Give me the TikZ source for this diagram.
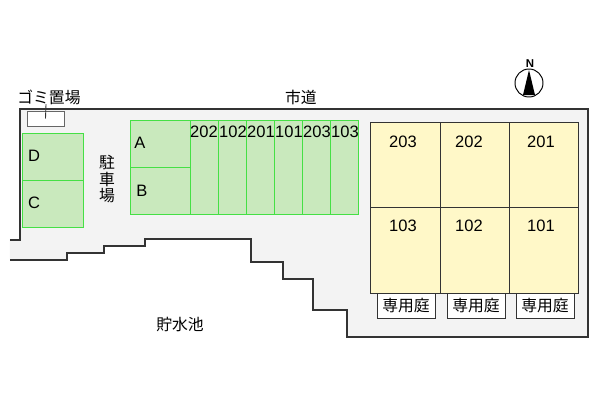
\documentclass[tikz,border=0pt]{standalone}
\usepackage{fontspec}
\setmainfont{Liberation Sans}
\newfontfamily\jpfont{Noto Sans CJK JP}
\usetikzlibrary{positioning}
\definecolor{lotgray}{HTML}{F3F3F3}
\definecolor{parkfill}{HTML}{C9E9BD}
\definecolor{parkline}{HTML}{45E045}
\definecolor{roomfill}{HTML}{FFF8C8}
\definecolor{wallline}{HTML}{333333}

\begin{document}
\begin{tikzpicture}[x=0.02cm,y=-0.02cm,
	lot line/.style={wallline,line width=0.85pt},
	room node/.style={rectangle,draw=wallline,fill=roomfill,line width=0.55pt,inner sep=0,minimum width=69.3*0.02cm,minimum height=85.5*0.02cm},
	garden node/.style={rectangle,draw=wallline,fill=white,line width=0.5pt,inner sep=0,minimum width=58*0.02cm,minimum height=25*0.02cm,font=\jpfont\fontsize{9}{9.2}\selectfont},
	stall node/.style={rectangle,draw=parkline,fill=parkfill,line width=0.5pt,inner sep=0,minimum width=28*0.02cm,minimum height=94*0.02cm},
	park node/.style={rectangle,draw=parkline,fill=parkfill,line width=0.5pt,inner sep=0},
	num text/.style={inner sep=0,font=\fontsize{9.4}{10}\selectfont},
	jp text/.style={inner sep=0,font=\jpfont\fontsize{9}{9.2}\selectfont}]

	\useasboundingbox (0,0) rectangle (600,400);

	% lot and its stepped edge
	\fill[lotgray] (10,240) -- (20,240) -- (20,109) -- (588,109) -- (588,337) -- (347,337) -- (347,310) -- (313,310) -- (313,279) -- (283,279) -- (283,262) -- (251,262) -- (251,239) -- (145,239) -- (145,246) -- (104,246) -- (104,253) -- (67,253) -- (67,260) -- (10,260) -- cycle;
	\draw[lot line] (10,240) -- (20,240) -- (20,109) -- (588,109) -- (588,337) -- (347,337) -- (347,310) -- (313,310) -- (313,279) -- (283,279) -- (283,262) -- (251,262) -- (251,239) -- (145,239) -- (145,246) -- (104,246) -- (104,253) -- (67,253) -- (67,260) -- (10,260);

	% rooms
	\begin{scope}[node distance=69.3*0.02cm]
	\node[room node] (r203) at (405.5,165) {};
	\node[room node] (r202) [right of=r203] {};
	\node[room node] (r201) [right of=r202] {};
	\node[room node] (r103) at (405.5,250.5) {};
	\node[room node] (r102) [right of=r103] {};
	\node[room node] (r101) [right of=r102] {};
	\end{scope}
	\node[num text] (t203) at (403,142) {203};
	\node[num text] (t202) at (469,142) {202};
	\node[num text] (t201) at (541,142) {201};
	\node[num text] (t103) at (403,226) {103};
	\node[num text] (t102) at (469,226) {102};
	\node[num text] (t101) at (541,226) {101};

	% gardens
	\node[garden node] (g103) at (406,306) {専用庭};
	\node[garden node] (g102) at (476,306) {専用庭};
	\node[garden node] (g101) at (545,306) {専用庭};

	% parking left
	\node[park node,minimum width=61*0.02cm,minimum height=47*0.02cm] (pd) at (53,157) {};
	\node[park node,minimum width=61*0.02cm,minimum height=47*0.02cm] (pc) at (53,204) {};
	\node[num text] (td) at (34,156) {D};
	\node[num text] (tc) at (34,203) {C};

	% parking middle
	\node[park node,minimum width=60*0.02cm,minimum height=47*0.02cm] (pa) at (160.5,144) {};
	\node[park node,minimum width=60*0.02cm,minimum height=47*0.02cm] (pb) at (160.5,191) {};
	\node[num text] (ta) at (140,143) {A};
	\node[num text] (tb) at (142,191) {B};

	\begin{scope}[node distance=28*0.02cm]
	\node[stall node] (s202) at (204.5,167.5) {};
	\node[stall node] (s102) [right of=s202] {};
	\node[stall node] (s201) [right of=s102] {};
	\node[stall node] (s101) [right of=s201] {};
	\node[stall node] (s203) [right of=s101] {};
	\node[stall node] (s103) [right of=s203] {};
	\end{scope}
	\node[num text] (n202) at (204,132) {202};
	\node[num text] (n102) at (233,132) {102};
	\node[num text] (n201) at (261,132) {201};
	\node[num text] (n101) at (289,132) {101};
	\node[num text] (n203) at (317,132) {203};
	\node[num text] (n103) at (345,132) {103};

	% refuse place
	\node[rectangle,draw=wallline!75,fill=white,line width=0.55pt,inner sep=0,minimum width=37*0.02cm,minimum height=15*0.02cm] (gomi) at (45.5,118.5) {};
	\node[jp text] (tgomi) at (49,97) {ゴミ置場};
	\draw[wallline,line width=0.5pt] (46,104) coordinate (ga) -- (gomi.center);

	% other labels
	\node[jp text] (road) at (301,97) {市道};
	\node[jp text,align=center] (park) at (107,179) {駐\\車\\場};
	\node[jp text] (pond) at (180,324) {貯水池};

	% north mark
	\node[circle,draw=black,fill=white,line width=0.55pt,inner sep=0,minimum size=28*0.02cm] (compass) at (529,83) {};
	\fill[black] (529,70) -- (535,95) -- (523,95) -- cycle;
	\node[inner sep=0,font=\bfseries\fontsize{6.5}{7}\selectfont] (north) at (530,63.5) {N};
\end{tikzpicture}
\end{document}
